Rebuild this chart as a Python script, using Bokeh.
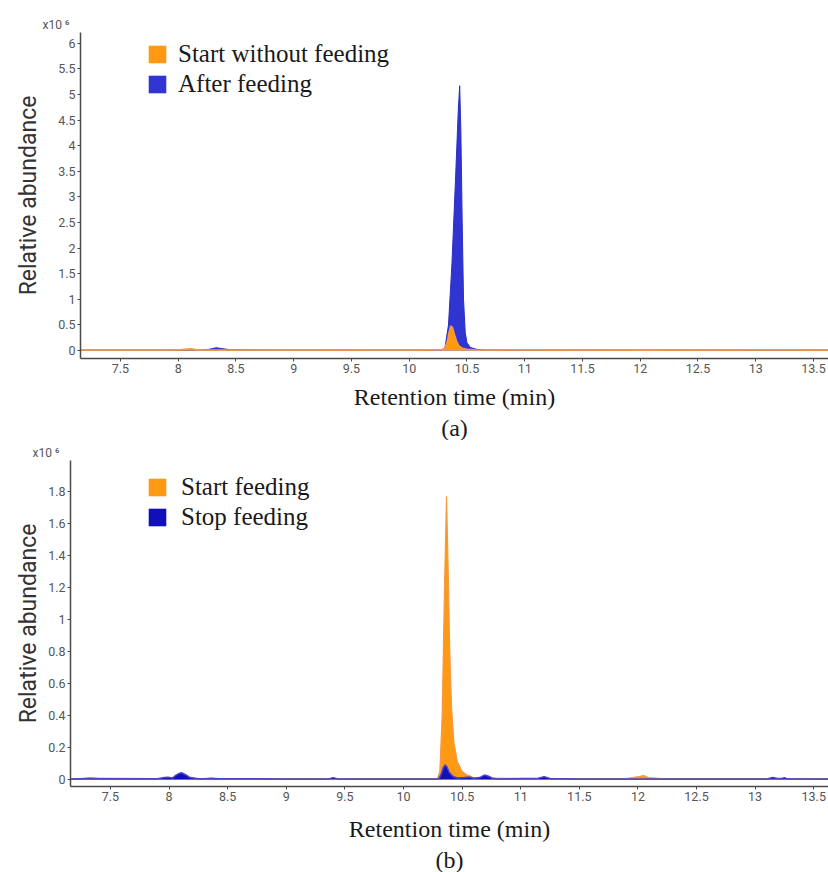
from bokeh.plotting import figure
from bokeh.models import Range1d, FixedTicker, Legend, LegendItem, Title
from bokeh.layouts import column
from bokeh.embed import file_html
from bokeh.resources import INLINE

# ---------------- data ----------------
x_ticks = [7.5, 8, 8.5, 9, 9.5, 10, 10.5, 11, 11.5, 12, 12.5, 13, 13.5]
x_tick_labels = ["7.5", "8", "8.5", "9", "9.5", "10", "10.5", "11", "11.5", "12", "12.5", "13", "13.5"]

a_y_ticks = [0, 0.5, 1, 1.5, 2, 2.5, 3, 3.5, 4, 4.5, 5, 5.5, 6]
a_y_tick_labels = ["0", "0.5", "1", "1.5", "2", "2.5", "3", "3.5", "4", "4.5", "5", "5.5", "6"]
b_y_ticks = [0, 0.2, 0.4, 0.6, 0.8, 1.0, 1.2, 1.4, 1.6, 1.8]
b_y_tick_labels = ["0", "0.2", "0.4", "0.6", "0.8", "1", "1.2", "1.4", "1.6", "1.8"]

# (a) Start without feeding (x10^6)
a_start_time = [7.16, 7.40, 7.80, 8.02, 8.08, 8.11, 8.15, 8.22, 8.60, 9.20,
                9.42, 9.60, 10.00, 10.28, 10.31, 10.33, 10.345, 10.36, 10.375, 10.39,
                10.41, 10.43, 10.46, 10.50, 10.56, 10.70, 11.05, 11.50, 12.05, 12.60,
                13.30, 13.63]
a_start_abund = [0.012, 0.012, 0.012, 0.015, 0.03, 0.035, 0.022, 0.012, 0.012, 0.012,
                 0.016, 0.012, 0.012, 0.013, 0.05, 0.18, 0.36, 0.48, 0.45, 0.33,
                 0.18, 0.09, 0.045, 0.025, 0.015, 0.012, 0.015, 0.012, 0.016, 0.012,
                 0.014, 0.012]
# (a) After feeding
a_after_time = [7.16, 7.60, 8.00, 8.25, 8.30, 8.33, 8.37, 8.45, 9.00, 9.80,
                10.28, 10.31, 10.34, 10.37, 10.40, 10.425, 10.437, 10.447, 10.458, 10.47,
                10.485, 10.50, 10.53, 10.58, 10.65, 11.05, 11.70, 12.05, 12.50, 13.30,
                13.63]
a_after_abund = [0.008, 0.008, 0.01, 0.015, 0.04, 0.055, 0.04, 0.015, 0.008, 0.008,
                 0.01, 0.06, 0.5, 1.7, 3.3, 4.7, 5.17, 4.3, 2.6, 1.0,
                 0.35, 0.15, 0.06, 0.025, 0.01, 0.012, 0.008, 0.02, 0.008, 0.012,
                 0.008]
# (b) Start feeding
b_start_time = [7.16, 7.28, 7.33, 7.40, 7.90, 8.30, 8.36, 8.42, 9.00, 10.00,
                10.29, 10.31, 10.33, 10.35, 10.367, 10.38, 10.395, 10.41, 10.43, 10.46,
                10.50, 10.54, 10.56, 10.60, 11.00, 11.90, 12.02, 12.05, 12.09, 12.20,
                13.00, 13.63]
b_start_abund = [0.006, 0.008, 0.012, 0.006, 0.006, 0.006, 0.012, 0.006, 0.006, 0.006,
                 0.006, 0.05, 0.4, 1.2, 1.77, 1.35, 0.8, 0.45, 0.23, 0.11,
                 0.05, 0.028, 0.025, 0.01, 0.006, 0.006, 0.02, 0.025, 0.012, 0.006,
                 0.006, 0.006]
# (b) Stop feeding
b_stop_time = [7.16, 7.30, 7.90, 7.96, 7.99, 8.03, 8.06, 8.09, 8.11, 8.14,
               8.18, 8.25, 9.00, 9.36, 9.40, 9.44, 10.00, 10.30, 10.32, 10.34,
               10.355, 10.37, 10.39, 10.42, 10.46, 10.52, 10.56, 10.60, 10.65, 10.69,
               10.72, 10.76, 10.80, 11.15, 11.20, 11.25, 11.50, 12.00, 13.10, 13.15,
               13.19, 13.23, 13.25, 13.27, 13.63]
b_stop_abund = [0.004, 0.006, 0.005, 0.012, 0.015, 0.01, 0.028, 0.04, 0.042, 0.03,
                0.012, 0.005, 0.004, 0.004, 0.012, 0.004, 0.004, 0.004, 0.03, 0.075,
                0.092, 0.08, 0.045, 0.02, 0.01, 0.012, 0.016, 0.008, 0.012, 0.028,
                0.022, 0.008, 0.004, 0.008, 0.018, 0.006, 0.004, 0.004, 0.004, 0.013,
                0.006, 0.006, 0.012, 0.005, 0.004]

ORANGE = "#FF9914"
ORANGE_LINE = "#F39A45"
BLUE_A = "#3035D2"
BLUE_A_LINE = "#2A2EC2"
BLUE_B = "#1010B8"
BLUE_B_LINE = "#4A45C8"

SERIF = "Liberation Serif"
SANS = "Roboto"
AXIS_COL = "#4a4a4a"
TICK_COL = "#555555"
TEXT_COL = "#1a1a1a"


def make_fig(width, height, xr, yr, left, top, bottom, yticks, ylabels,
             y_standoff, x_standoff, sub_text, sub_standoff):
    p = figure(width=width, height=height, x_range=Range1d(*xr), y_range=Range1d(*yr),
               min_border_left=left, min_border_right=0, min_border_top=top,
               min_border_bottom=bottom, output_backend="svg", toolbar_location=None,
               background_fill_color="white", border_fill_color="white",
               frame_align=False)
    p.outline_line_color = None
    p.xgrid.visible = False
    p.ygrid.visible = False
    for ax in (p.xaxis[0], p.yaxis[0]):
        ax.axis_line_color = AXIS_COL
        ax.axis_line_width = 1.5
        ax.major_tick_line_color = AXIS_COL
        ax.major_tick_line_width = 1
        ax.major_tick_out = 3
        ax.major_tick_in = 0
        ax.minor_tick_line_color = None
        ax.major_label_text_font = SANS
        ax.major_label_text_font_size = "12.5px"
        ax.major_label_text_color = TICK_COL
        ax.major_label_standoff = 2
    p.xaxis[0].ticker = FixedTicker(ticks=x_ticks)
    p.xaxis[0].major_label_overrides = {t: l for t, l in zip(x_ticks, x_tick_labels)}
    p.yaxis[0].ticker = FixedTicker(ticks=yticks)
    p.yaxis[0].major_label_overrides = {t: l for t, l in zip(yticks, ylabels)}

    p.yaxis[0].axis_label = "Relative abundance"
    p.yaxis[0].axis_label_text_font = SANS
    p.yaxis[0].axis_label_text_font_size = "23px"
    p.yaxis[0].axis_label_text_font_style = "normal"
    p.yaxis[0].axis_label_text_color = "#333333"
    p.yaxis[0].axis_label_standoff = y_standoff

    p.xaxis[0].axis_label = "Retention time (min)"
    p.xaxis[0].axis_label_text_font = SERIF
    p.xaxis[0].axis_label_text_font_size = "24px"
    p.xaxis[0].axis_label_text_font_style = "normal"
    p.xaxis[0].axis_label_text_color = TEXT_COL
    p.xaxis[0].axis_label_standoff = x_standoff

    p.add_layout(Title(text=sub_text, align="center", text_font=SERIF,
                       text_font_size="24px", text_font_style="normal",
                       text_color=TEXT_COL, standoff=sub_standoff, offset=6), "below")
    p.add_layout(Title(text="x10 \u2076", align="left", offset=-38, text_font=SANS,
                       text_font_size="12px", text_font_style="normal",
                       text_color=TICK_COL, standoff=1), "above")
    return p


def make_legend(r1, r2, lab1, lab2, loc, standoff):
    return Legend(items=[LegendItem(label=lab1, renderers=[r1]),
                         LegendItem(label=lab2, renderers=[r2])],
                  location=loc, padding=0, spacing=2, margin=0,
                  glyph_width=22, glyph_height=22, label_standoff=standoff,
                  label_text_font=SERIF, label_text_font_size="25px",
                  label_text_color=TEXT_COL, border_line_color=None,
                  background_fill_alpha=0)


W = 828

# ---------------- panel (a) ----------------
H1 = 440
xa = (7.154, 13.63)
ya = (-0.156, 6.21)
p1 = make_fig(W, H1, xa, ya, 80, 32, 82, a_y_ticks, a_y_tick_labels,
              y_standoff=13, x_standoff=8, sub_text="(a)", sub_standoff=0)
ra_after = p1.varea(x=a_after_time, y1=0, y2=a_after_abund, fill_color=BLUE_A)
p1.line(a_after_time, a_after_abund, line_color=BLUE_A_LINE, line_width=1)
ra_start = p1.varea(x=a_start_time, y1=0, y2=a_start_abund, fill_color=ORANGE)
p1.line(a_start_time, a_start_abund, line_color=ORANGE_LINE, line_width=1.5)
p1.add_layout(make_legend(ra_start, ra_after, "Start without feeding", "After feeding",
                          (66, 260), 10))

# ---------------- panel (b) ----------------
H2 = 432
xb = (7.159, 13.626)
yb = (-0.0436, 1.994)
p2 = make_fig(W, H2, xb, yb, 70, 20, 85, b_y_ticks, b_y_tick_labels,
              y_standoff=3, x_standoff=12, sub_text="(b)", sub_standoff=0)
rb_start = p2.varea(x=b_start_time, y1=0, y2=b_start_abund, fill_color=ORANGE)
p2.line(b_start_time, b_start_abund, line_color=ORANGE_LINE, line_width=1.2)
rb_stop = p2.varea(x=b_stop_time, y1=0, y2=b_stop_abund, fill_color=BLUE_B)
p2.line(b_stop_time, b_stop_abund, line_color=BLUE_B_LINE, line_width=1.5)
p2.add_layout(make_legend(rb_start, rb_stop, "Start feeding", "Stop feeding",
                          (76, 255), 13))

layout = column(p1, p2, spacing=0)
open("out.html", "w").write(file_html(layout, INLINE))
